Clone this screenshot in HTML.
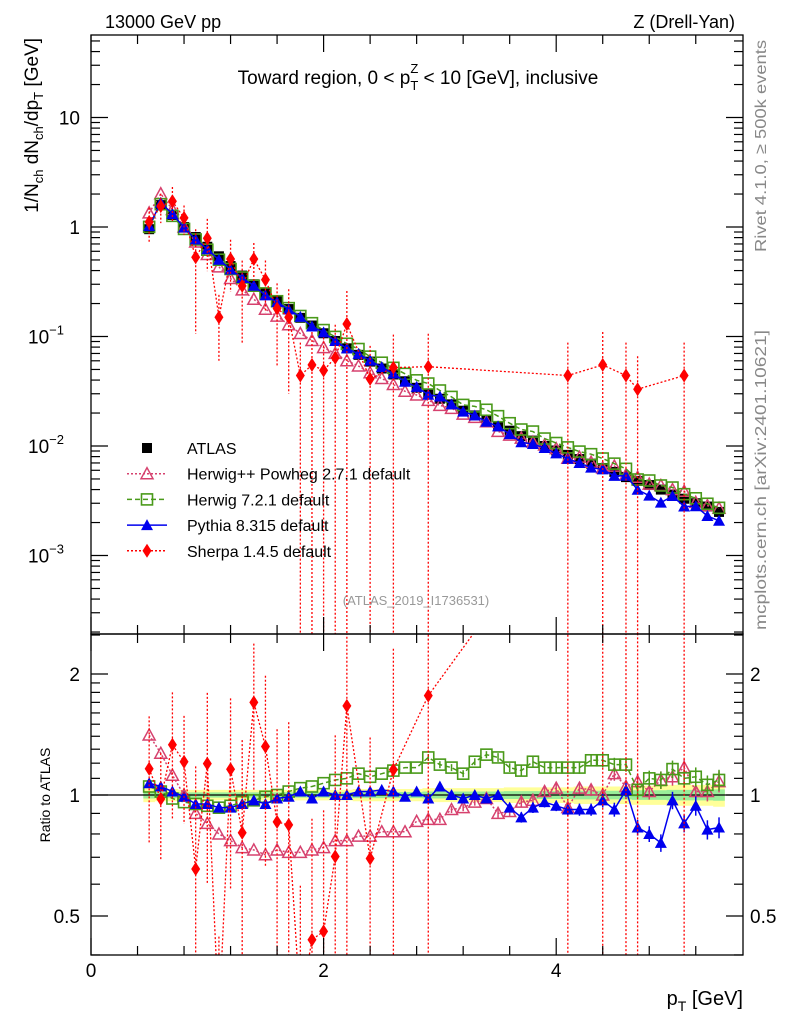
<!DOCTYPE html>
<html><head><meta charset="utf-8"><style>
html,body{margin:0;padding:0;background:#fff;width:786px;height:1024px;overflow:hidden;}
svg{display:block;font-family:"Liberation Sans",sans-serif;}
</style></head><body>
<svg id="c" width="786" height="1024" viewBox="0 0 786 1024">
<defs>
<clipPath id="cm"><rect x="91" y="35" width="652" height="599"/></clipPath>
<clipPath id="cr"><rect x="91" y="634" width="652" height="321"/></clipPath>
</defs>
<g id="band" clip-path="url(#cr)"></g>
<g id="mainMarks" clip-path="url(#cm)"></g>
<g id="ratioMarks" clip-path="url(#cr)"></g>
<g id="axes"></g>
<text x="105" y="28" font-size="18">13000 GeV pp</text>
<text x="735" y="28" font-size="18" text-anchor="end">Z (Drell-Yan)</text>
<text x="418" y="84" font-size="19" text-anchor="middle">Toward region, 0 &lt; p<tspan font-size="13" dy="6">T</tspan><tspan font-size="13" dx="-8" dy="-17">Z</tspan><tspan dy="11"> &lt; 10 [GeV], inclusive</tspan></text>
<text transform="translate(38,38) rotate(-90)" font-size="19" text-anchor="end">1/N<tspan font-size="13" dy="5">ch</tspan><tspan dy="-5"> dN</tspan><tspan font-size="13" dy="5">ch</tspan><tspan dy="-5">/dp</tspan><tspan font-size="13" dy="5">T</tspan><tspan dy="-5"> [GeV]</tspan></text>
<text transform="translate(50,795) rotate(-90)" font-size="14" text-anchor="middle">Ratio to ATLAS</text>
<text transform="translate(766,40) rotate(-90)" font-size="16" fill="#888" text-anchor="end" textLength="212" lengthAdjust="spacingAndGlyphs">Rivet 4.1.0, ≥ 500k events</text>
<text transform="translate(766,630) rotate(-90)" font-size="16" fill="#888" textLength="300" lengthAdjust="spacingAndGlyphs">mcplots.cern.ch [arXiv:2401.10621]</text>
<text x="416" y="605" font-size="13" fill="#999" text-anchor="middle">(ATLAS_2019_I1736531)</text>
<text x="743" y="1005" font-size="20" text-anchor="end">p<tspan font-size="14" dy="6">T</tspan><tspan dy="-6"> [GeV]</tspan></text>
<g id="legend"></g>
</svg>
<script>
const xs=[0.5,0.6,0.7,0.8,0.9,1.0,1.1,1.2,1.3,1.4,1.5,1.6,1.7,1.8,1.9,2.0,2.1,2.2,2.3,2.4,2.5,2.6,2.7,2.8,2.9,3.0,3.1,3.2,3.3,3.4,3.5,3.6,3.7,3.8,3.9,4.0,4.1,4.2,4.3,4.4,4.5,4.6,4.7,4.8,4.9,5.0,5.1,5.2,5.3,5.4];
const atlas=[0.955,1.585,1.29,1.0,0.81,0.66,0.54,0.44,0.36,0.30,0.25,0.21,0.178,0.148,0.126,0.107,0.091,0.078,0.068,0.059,0.051,0.045,0.039,0.034,0.030,0.027,0.024,0.021,0.019,0.017,0.0151,0.0138,0.0123,0.0112,0.0100,0.0091,0.0083,0.0076,0.0069,0.0063,0.0058,0.0052,0.0048,0.0044,0.0040,0.0036,0.0033,0.0030,0.0028,0.0025];
const herwigpp=[1.41,1.27,1.12,1.0,0.90,0.85,0.80,0.77,0.74,0.73,0.71,0.73,0.72,0.72,0.73,0.74,0.77,0.77,0.79,0.79,0.81,0.81,0.81,0.86,0.87,0.87,0.92,0.93,0.96,0.98,0.90,0.91,0.96,0.97,1.02,1.04,0.93,1.04,1.03,1.0,1.13,1.05,1.08,1.02,1.09,1.11,1.17,1.02,1.02,1.08];
const herwig7=[1.05,1.02,0.98,0.96,0.95,0.94,0.93,0.94,0.96,0.97,0.99,1.0,1.02,1.04,1.05,1.07,1.09,1.10,1.13,1.11,1.13,1.15,1.17,1.17,1.24,1.19,1.17,1.13,1.21,1.26,1.24,1.17,1.15,1.21,1.17,1.17,1.17,1.17,1.22,1.22,1.19,1.19,1.03,1.10,1.09,1.16,1.10,1.11,1.06,1.09];
const pythia=[1.07,1.05,1.02,0.99,0.95,0.95,0.93,0.93,0.95,0.97,0.95,0.98,0.99,1.02,0.98,1.02,1.0,1.0,1.02,1.02,1.03,1.02,0.99,1.02,0.98,1.05,1.0,0.98,1.0,0.98,1.0,0.93,0.88,0.93,0.96,0.94,0.92,0.92,0.92,0.97,0.92,1.03,0.83,0.80,0.76,0.97,0.85,0.94,0.82,0.83];
const sherpa=[1.11,1.55,1.72,1.21,0.53,0.79,0.15,0.51,0.29,0.51,0.33,0.18,0.15,0.044,0.055,0.049,0.064,0.13,null,0.041,null,0.052,null,null,0.053,null,null,null,null,null,null,null,null,null,null,null,0.044,null,null,0.055,null,0.044,0.033,null,null,null,0.044,null,null,null];
const sherpaErr=[0.35,0.3,0.35,0.3,0.8,0.5,0.6,0.5,0.7,0.4,0.5,0.7,0.8,1,1,1,1,1,1,1,1,1,1,1,1,1,1,1,1,1,1,1,1,1,1,1,1,1,1,1,1,1,1,1,1,1,1,1,1,1];
const bandYellow=[0.04,0.035,0.035,0.03,0.03,0.03,0.03,0.03,0.03,0.03,0.03,0.03,0.03,0.03,0.03,0.03,0.03,0.03,0.035,0.035,0.035,0.035,0.035,0.035,0.04,0.04,0.04,0.04,0.04,0.04,0.04,0.045,0.045,0.045,0.045,0.045,0.045,0.05,0.05,0.05,0.05,0.05,0.055,0.055,0.055,0.06,0.06,0.06,0.06,0.065];
const mcErr=[0.01,0.01,0.01,0.01,0.01,0.01,0.01,0.01,0.01,0.01,0.01,0.01,0.01,0.01,0.01,0.01,0.01,0.01,0.015,0.015,0.015,0.015,0.015,0.015,0.02,0.02,0.02,0.02,0.02,0.02,0.025,0.025,0.03,0.03,0.03,0.03,0.035,0.035,0.035,0.04,0.04,0.04,0.045,0.045,0.05,0.05,0.05,0.055,0.055,0.06];
const X=v=>91+v*116.3;
const Ym=v=>227-109.5*Math.log10(v);
const Yr=r=>795-402*Math.log10(r);
const NS='http://www.w3.org/2000/svg';
function mk(p,tag,at){const e=document.createElementNS(NS,tag);for(const k in at)e.setAttribute(k,at[k]);p.appendChild(e);return e;}
const gB=document.getElementById('band'),gM=document.getElementById('mainMarks'),gR=document.getElementById('ratioMarks'),gA=document.getElementById('axes'),gL=document.getElementById('legend');
function bandPath(f){let top='',bot='';xs.forEach((x,i)=>{const a=X(x-0.05),b=X(x+0.05);top+=`L${a},${Yr(1+bandYellow[i]*f)}L${b},${Yr(1+bandYellow[i]*f)}`;});
for(let i=xs.length-1;i>=0;i--){const a=X(xs[i]-0.05),b=X(xs[i]+0.05);bot+=`L${b},${Yr(1-bandYellow[i]*f)}L${a},${Yr(1-bandYellow[i]*f)}`;}return 'M'+top.slice(1)+bot+'Z';}
let e=mk(gB,'path',{d:bandPath(1),fill:'#ffff99'});


e=mk(gB,'path',{d:bandPath(0.5),fill:'#99ee99'});


e=mk(gB,'line',{x1:91,x2:743,y1:Yr(1),y2:Yr(1),stroke:'#000','stroke-width':1.3});


function marker(g,type,cx,cy,col){
 let m;
 if(type==='sq')m=mk(g,'rect',{x:cx-5,y:cy-5,width:10,height:10,fill:'#000'});
 else if(type==='osq')m=mk(g,'rect',{x:cx-5.5,y:cy-5.5,width:11,height:11,fill:'none',stroke:col,'stroke-width':1.6});
 else if(type==='otri')m=mk(g,'path',{d:`M${cx},${cy-6}L${cx+6},${cy+5}L${cx-6},${cy+5}Z`,fill:'none',stroke:col,'stroke-width':1.5});
 else if(type==='tri')m=mk(g,'path',{d:`M${cx},${cy-6}L${cx+6},${cy+5}L${cx-6},${cy+5}Z`,fill:col});
 else m=mk(g,'path',{d:`M${cx},${cy-7}L${cx+4.5},${cy}L${cx},${cy+7}L${cx-4.5},${cy}Z`,fill:col});
 return m;
}
const series=[
 {name:'herwigpp',r:herwigpp,col:'#d6416e',type:'otri',dash:'2,2'},
 {name:'herwig7',r:herwig7,col:'#4a9a1a',type:'osq',dash:'5,3'},
 {name:'pythia',r:pythia,col:'#0000ee',type:'tri',dash:''},
];
xs.forEach((x,i)=>{const m=marker(gM,'sq',X(x),Ym(atlas[i]));

});
series.forEach(s=>{
 ['main','ratio'].forEach(p=>{
  const g=p==='main'?gM:gR;
  const pts=xs.map((x,i)=>[X(x),p==='main'?Ym(atlas[i]*s.r[i]):Yr(s.r[i])]);
  const l=mk(g,'polyline',{points:pts.map(q=>q.join(',')).join(' '),fill:'none',stroke:s.col,'stroke-width':1.5,'stroke-dasharray':s.dash});
  
  
  xs.forEach((x,i)=>{
   if(p==='ratio'&&mcErr[i]>0.015){const eb=mk(g,'line',{x1:X(x),x2:X(x),y1:Yr(s.r[i]*(1+mcErr[i])),y2:Yr(s.r[i]*(1-mcErr[i])),stroke:s.col,'stroke-width':1.5});
   
   }
   const m=marker(g,s.type,pts[i][0],pts[i][1],s.col);
   
   
  });
 });
});
['main','ratio'].forEach(p=>{
 const g=p==='main'?gM:gR;
 const pts=[];
 const lim=p==='main'?634:955;
 xs.forEach((x,i)=>{if(sherpa[i]==null)return;const v=p==='main'?sherpa[i]:sherpa[i]/atlas[i];
  const y=p==='main'?Ym(v):Yr(v);pts.push([X(x),y]);
  const er=sherpaErr[i];const yt=p==='main'?Ym(v*(1+er)):Yr(v*(1+er));const yb=er>=1?lim:Math.min(lim,p==='main'?Ym(v*(1-er)):Yr(v*(1-er)));
  const eb=mk(g,'line',{x1:X(x),x2:X(x),y1:yt,y2:yb,stroke:'#ff0000','stroke-width':1.3,'stroke-dasharray':'2,2'});
  
  
 });
 const l=mk(g,'polyline',{points:pts.map(q=>q.join(',')).join(' '),fill:'none',stroke:'#ff0000','stroke-width':1.3,'stroke-dasharray':'2,2'});
 
 
 pts.forEach(q=>{const m=marker(g,'dia',q[0],q[1],'#ff0000');
 
 });
});
[[35,599],[634,321]].forEach(([y,h],k)=>{const r=mk(gA,'rect',{x:91,y:y,width:652,height:h,fill:'none',stroke:'#000','stroke-width':1.3});

});
function tick(x1,y1,x2,y2){mk(gA,'line',{x1,y1,x2,y2,stroke:'#000','stroke-width':1.2});}
for(let d=-4;d<=1;d++){for(let k=1;k<=9;k++){const v=k*Math.pow(10,d);const y=Ym(v);if(y<35||y>634)continue;const L=k===1?17:9;tick(91,y,91+L,y);tick(743,y,743-L,y);}}
const labs=[[10,'10'],[1,'1'],[0.1,'10','−1'],[0.01,'10','−2'],[0.001,'10','−3']];
labs.forEach(([v,b,s])=>{const t=mk(gA,'text',{x:s?64:80,y:Ym(v)+7,'font-size':19,'text-anchor':'end'});t.textContent=b;


if(s){const ts=mk(t,'tspan',{'font-size':13,dy:-9});ts.textContent=s;}});
const rt=[0.4,0.5,0.6,0.7,0.8,0.9,1,1.1,1.2,1.3,1.4,1.5,1.6,1.7,1.8,1.9,2,2.5];
rt.forEach(v=>{const y=Yr(v);if(y<634||y>955)return;const L=(v===0.5||v===1||v===2)?17:9;tick(91,y,91+L,y);tick(743,y,743-L,y);});
[[2,'2'],[1,'1'],[0.5,'0.5']].forEach(([v,s])=>{[[80,'end'],[750,'start']].forEach(([x,a])=>{const t=mk(gA,'text',{x:x,y:Yr(v)+7,'font-size':19,'text-anchor':a});t.textContent=s;

});});
for(let v=0;v<=5.6;v+=0.4){const x=X(v);const maj=Math.abs(v/2-Math.round(v/2))<1e-6;const L=maj?17:9;
tick(x,634,x,634-L);tick(x,35,x,35+L);tick(x,955,x,955-L);tick(x,634,x,634+L);}
[0,2,4].forEach(v=>{const t=mk(gA,'text',{x:X(v),y:977,'font-size':19,'text-anchor':'middle'});t.textContent=v;

});
const leg=[['sq','#000','','ATLAS'],['otri','#d6416e','2,2','Herwig++ Powheg 2.7.1 default'],['osq','#4a9a1a','5,3','Herwig 7.2.1 default'],['tri','#0000ee','','Pythia 8.315 default'],['dia','#ff0000','2,2','Sherpa 1.4.5 default']];
leg.forEach((l,i)=>{const y=448+i*25.7;const g=mk(gL,'g',{});


if(i>0)mk(g,'line',{x1:127,x2:167,y1:y,y2:y,stroke:l[1],'stroke-width':1.5,'stroke-dasharray':l[2]});
marker(g,l[0],147,y,l[1]);const t=mk(g,'text',{x:187,y:y+6,'font-size':16});t.textContent=l[3];});
</script>
</body></html>
